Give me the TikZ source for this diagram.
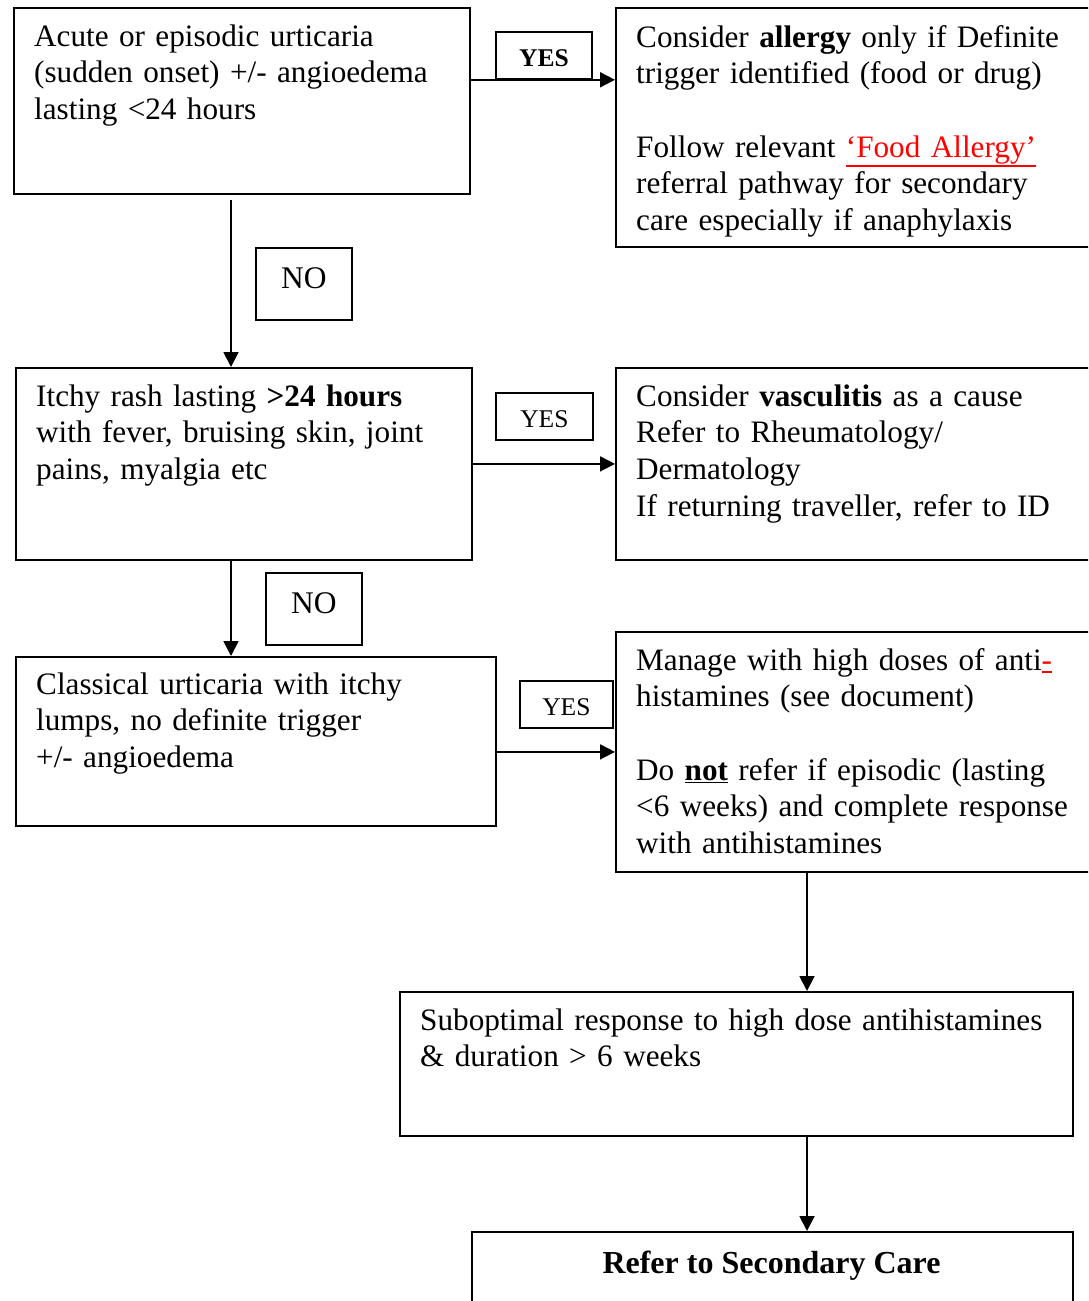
\documentclass[tikz,border=0pt]{standalone}
\usepackage{fontspec}
\setmainfont{Liberation Serif}
\usetikzlibrary{arrows.meta}
\definecolor{linkred}{RGB}{255,0,0}
\newcommand\myul[1]{\leavevmode\vtop{\hbox{#1}\kern1.2pt\hrule height 1.8pt}}
\begin{document}
\begin{tikzpicture}[x=1pt,y=-1pt,
  box/.style={draw, line width=1.8pt, rectangle, anchor=north west, inner sep=0pt},
  txt/.style={anchor=base west, inner sep=0pt, text width=720pt, align=left,
    font=\fontsize{31.2}{36.7}\selectfont},
  lblbox/.style={draw, line width=1.8pt, rectangle, anchor=north west, inner sep=0pt},
  yestxt/.style={font=\fontsize{25.5}{30}\selectfont, text height=23pt, text depth=0pt},
  notxt/.style={font=\fontsize{31.5}{36}\selectfont, text height=22pt, text depth=12pt},
  arr/.style={line width=1.8pt, -{Triangle[length=15pt,width=15pt]}}]
\useasboundingbox (0,0) rectangle (1088,1301);
\clip (0,0) rectangle (1088,1301);

% main boxes
\node[box, minimum width=456pt, minimum height=186pt] (a) at (13,7) {};
\node[box, minimum width=500pt, minimum height=239pt] (b) at (615,7) {};
\node[box, minimum width=456pt, minimum height=192pt] (c) at (15,367) {};
\node[box, minimum width=500pt, minimum height=192pt] (d) at (615,367) {};
\node[box, minimum width=480pt, minimum height=169pt] (e) at (15,656) {};
\node[box, minimum width=500pt, minimum height=240pt] (f) at (615,631) {};
\node[box, minimum width=673pt, minimum height=144pt] (g) at (399,991) {};
\node[box, minimum width=601pt, minimum height=120pt] (h) at (471,1231) {};

% texts
\node[txt] (ta) at (34,46) {Acute or episodic urticaria\\(sudden onset) +/- angioedema\\lasting <24 hours};
\node[txt] (tb) at (636,47) {Consider \textbf{allergy} only if Definite\\trigger identified (food or drug)\\\mbox{}\\Follow relevant \textcolor{linkred}{\myul{‘Food Allergy’}}\\referral pathway for secondary\\care especially if anaphylaxis};
\node[txt] (tc) at (36,406) {Itchy rash lasting \textbf{>24 hours}\\with fever, bruising skin, joint\\pains, myalgia etc};
\node[txt] (td) at (636,406) {Consider \textbf{vasculitis} as a cause\\Refer to Rheumatology/\\Dermatology\\If returning traveller, refer to ID};
\node[txt] (te) at (36,694) {Classical urticaria with itchy\\lumps, no definite trigger\\+/- angioedema};
\node[txt] (tf) at (636,670) {Manage with high doses of anti\textcolor{linkred}{\myul{-}}\\histamines (see document)\\\mbox{}\\Do \myul{\textbf{not}} refer if episodic (lasting\\<6 weeks) and complete response\\with antihistamines};
\node[txt] (tg) at (420,1030) {Suboptimal response to high dose antihistamines\\\& duration > 6 weeks};
\node[anchor=base, inner sep=0pt, font=\fontsize{32}{36.7}\selectfont\bfseries] (th) at (771.5,1273) {Refer to Secondary Care};

% label boxes
\node[lblbox, minimum width=96pt, minimum height=47pt, yestxt] (y1) at (495,31) {\textbf{YES}};
\node[lblbox, minimum width=96pt, minimum height=72pt, notxt] (n1) at (255,247) {NO};
\node[lblbox, minimum width=97pt, minimum height=47pt, yestxt] (y2) at (495,392) {YES};
\node[lblbox, minimum width=96pt, minimum height=72pt, notxt] (n2) at (265,572) {NO};
\node[lblbox, minimum width=93pt, minimum height=47pt, yestxt] (y3) at (519,680) {YES};

% connectors
\coordinate (lx) at (231,0);
\coordinate (rx) at (807,0);
\draw[arr] (a.east |- y1.south) -- (b.west |- y1.south);
\draw[arr] (c.east |- d.center) -- (d.west |- d.center);
\draw[arr] (e.east |- f.center) -- (f.west |- f.center);
\draw[arr] ([yshift=-5pt]lx |- a.south) -- (lx |- c.north);
\draw[arr] (lx |- c.south) -- (lx |- e.north);
\draw[arr] (rx |- f.south) -- (rx |- g.north);
\draw[arr] (rx |- g.south) -- (rx |- h.north);
\end{tikzpicture}
\end{document}
